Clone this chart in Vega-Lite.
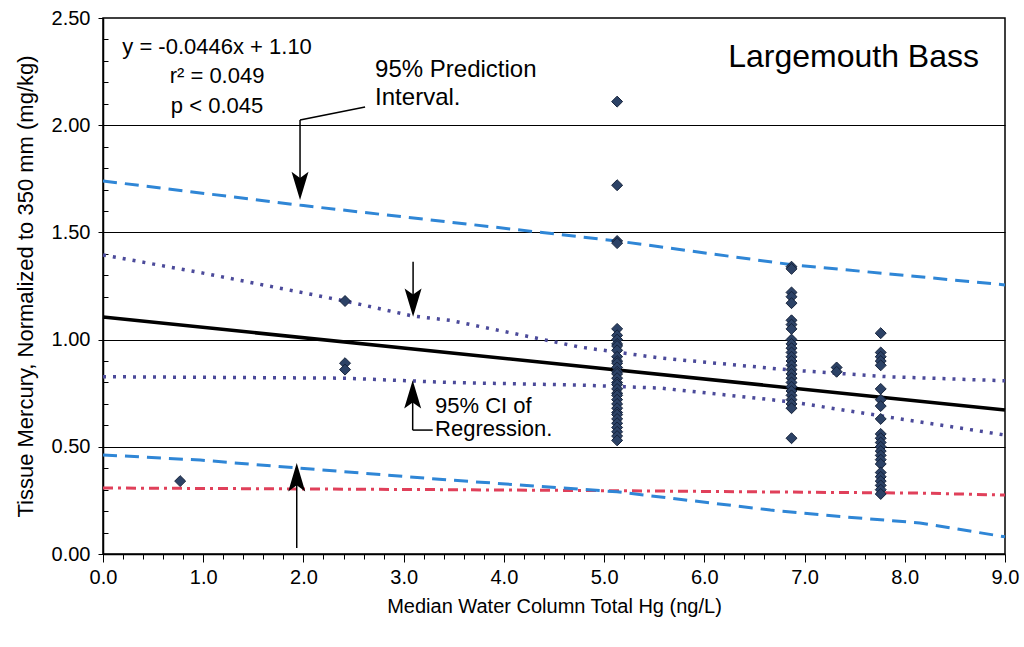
{
  "$schema": "https://vega.github.io/schema/vega-lite/v6.json",
  "width": 902,
  "height": 536,
  "autosize": {"type": "none"},
  "padding": {"left": 103, "top": 18, "right": 19, "bottom": 93},
  "background": "white",
  "config": {
    "view": {"stroke": "black", "strokeWidth": 1.5},
    "font": "Liberation Sans",
    "axis": {"domainColor": "black", "tickColor": "black", "labelColor": "black", "titleColor": "black", "gridColor": "black", "titleFontWeight": "normal", "labelFont": "Liberation Sans", "titleFont": "Liberation Sans"}
  },
  "datasets": {
    "pts": [
      {"x": 0.77, "y": 0.34},
      {"x": 2.415, "y": 1.18}, {"x": 2.415, "y": 0.89}, {"x": 2.415, "y": 0.86},
      {"x": 5.13, "y": 2.11}, {"x": 5.13, "y": 1.72}, {"x": 5.13, "y": 1.46}, {"x": 5.13, "y": 1.45},
      {"x": 5.13, "y": 1.05}, {"x": 5.13, "y": 1.02}, {"x": 5.13, "y": 1.0}, {"x": 5.13, "y": 0.98}, {"x": 5.13, "y": 0.97},
      {"x": 5.13, "y": 0.95}, {"x": 5.13, "y": 0.92}, {"x": 5.13, "y": 0.9}, {"x": 5.13, "y": 0.89}, {"x": 5.13, "y": 0.87},
      {"x": 5.13, "y": 0.85}, {"x": 5.13, "y": 0.84}, {"x": 5.13, "y": 0.82}, {"x": 5.13, "y": 0.8}, {"x": 5.13, "y": 0.79},
      {"x": 5.13, "y": 0.77}, {"x": 5.13, "y": 0.75}, {"x": 5.13, "y": 0.74}, {"x": 5.13, "y": 0.72}, {"x": 5.13, "y": 0.7},
      {"x": 5.13, "y": 0.68}, {"x": 5.13, "y": 0.66}, {"x": 5.13, "y": 0.65}, {"x": 5.13, "y": 0.63}, {"x": 5.13, "y": 0.61},
      {"x": 5.13, "y": 0.59}, {"x": 5.13, "y": 0.57}, {"x": 5.13, "y": 0.55}, {"x": 5.13, "y": 0.53},
      {"x": 6.87, "y": 1.34}, {"x": 6.87, "y": 1.33}, {"x": 6.87, "y": 1.22}, {"x": 6.87, "y": 1.2}, {"x": 6.87, "y": 1.17},
      {"x": 6.87, "y": 1.09}, {"x": 6.87, "y": 1.07}, {"x": 6.87, "y": 1.05}, {"x": 6.87, "y": 1.0}, {"x": 6.87, "y": 0.98},
      {"x": 6.87, "y": 0.96}, {"x": 6.87, "y": 0.94}, {"x": 6.87, "y": 0.92}, {"x": 6.87, "y": 0.9}, {"x": 6.87, "y": 0.88},
      {"x": 6.87, "y": 0.86}, {"x": 6.87, "y": 0.84}, {"x": 6.87, "y": 0.82}, {"x": 6.87, "y": 0.8}, {"x": 6.87, "y": 0.78},
      {"x": 6.87, "y": 0.76}, {"x": 6.87, "y": 0.74}, {"x": 6.87, "y": 0.72}, {"x": 6.87, "y": 0.7}, {"x": 6.87, "y": 0.68},
      {"x": 6.87, "y": 0.54},
      {"x": 7.32, "y": 0.87}, {"x": 7.32, "y": 0.85},
      {"x": 7.76, "y": 1.03}, {"x": 7.76, "y": 0.94}, {"x": 7.76, "y": 0.92}, {"x": 7.76, "y": 0.9}, {"x": 7.76, "y": 0.88},
      {"x": 7.76, "y": 0.77}, {"x": 7.76, "y": 0.72}, {"x": 7.76, "y": 0.69}, {"x": 7.76, "y": 0.63}, {"x": 7.76, "y": 0.56},
      {"x": 7.76, "y": 0.54}, {"x": 7.76, "y": 0.52}, {"x": 7.76, "y": 0.5}, {"x": 7.76, "y": 0.48}, {"x": 7.76, "y": 0.46},
      {"x": 7.76, "y": 0.44}, {"x": 7.76, "y": 0.42}, {"x": 7.76, "y": 0.38}, {"x": 7.76, "y": 0.36}, {"x": 7.76, "y": 0.34},
      {"x": 7.76, "y": 0.32}, {"x": 7.76, "y": 0.3}, {"x": 7.76, "y": 0.28}
    ],
    "upperPI": [{"x": 0, "y": 1.74}, {"x": 2, "y": 1.625}, {"x": 5.13, "y": 1.46}, {"x": 6.86, "y": 1.35}, {"x": 9, "y": 1.255}],
    "lowerPI": [{"x": 0, "y": 0.462}, {"x": 0.97, "y": 0.438}, {"x": 1.97, "y": 0.4}, {"x": 3.46, "y": 0.345}, {"x": 5.13, "y": 0.29}, {"x": 6.66, "y": 0.205}, {"x": 7.4, "y": 0.173}, {"x": 8.15, "y": 0.145}, {"x": 9, "y": 0.08}],
    "upperCI": [{"x": 0, "y": 1.395}, {"x": 1, "y": 1.31}, {"x": 2.415, "y": 1.18}, {"x": 3.09, "y": 1.11}, {"x": 3.46, "y": 1.09}, {"x": 4.76, "y": 0.965}, {"x": 5.56, "y": 0.914}, {"x": 6.86, "y": 0.858}, {"x": 7.82, "y": 0.827}, {"x": 9, "y": 0.808}],
    "lowerCI": [{"x": 0, "y": 0.827}, {"x": 2.415, "y": 0.82}, {"x": 3.45, "y": 0.8}, {"x": 4.76, "y": 0.788}, {"x": 5.56, "y": 0.774}, {"x": 6.86, "y": 0.71}, {"x": 7.82, "y": 0.64}, {"x": 9, "y": 0.555}],
    "redline": [{"x": 0, "y": 0.308}, {"x": 3.46, "y": 0.3}, {"x": 5.13, "y": 0.295}, {"x": 8.15, "y": 0.284}, {"x": 9, "y": 0.275}],
    "regression": [{"x": 0, "y": 1.105}, {"x": 9, "y": 0.672}],
    "arrows": [
      {"x": 2.615, "y": 2.085, "x2": 1.966, "y2": 2.024},
      {"x": 1.966, "y": 2.024, "x2": 1.966, "y2": 1.68},
      {"x": 3.094, "y": 1.363, "x2": 3.094, "y2": 1.13},
      {"x": 3.09, "y": 0.578, "x2": 3.09, "y2": 0.79},
      {"x": 3.09, "y": 0.578, "x2": 3.29, "y2": 0.578},
      {"x": 1.933, "y": 0.028, "x2": 1.933, "y2": 0.4}
    ],
    "heads": [
      {"x": 1.966, "y": 1.651, "dir": "down"},
      {"x": 3.094, "y": 1.107, "dir": "down"},
      {"x": 3.09, "y": 0.81, "dir": "up"},
      {"x": 1.933, "y": 0.424, "dir": "up"}
    ],
    "equation": [
      {"x": 1.138, "y": 2.332, "text": "y = -0.0446x + 1.10"},
      {"x": 1.138, "y": 2.197, "text": "r² = 0.049"},
      {"x": 1.138, "y": 2.057, "text": "p < 0.045"}
    ],
    "callouts": [
      {"x": 2.715, "y": 2.225, "text": "95% Prediction"},
      {"x": 2.715, "y": 2.094, "text": "Interval."}
    ],
    "cicallout": [
      {"x": 3.313, "y": 0.658, "text": "95% CI of"},
      {"x": 3.313, "y": 0.55, "text": "Regression."}
    ],
    "species": [{"x": 6.238, "y": 2.271, "text": "Largemouth Bass"}]
  },
  "layer": [
    {
      "data": {"name": "regression"},
      "mark": {"type": "line", "color": "black", "strokeWidth": 3.5},
      "encoding": {
        "x": {"field": "x", "type": "quantitative",
          "scale": {"domain": [0, 9], "nice": false, "zero": false},
          "axis": {
            "title": "Median Water Column Total Hg (ng/L)",
            "titleFontSize": 20, "titlePadding": 9,
            "tickCount": 1000,
            "values": [0,0.2,0.4,0.6,0.8,1,1.2,1.4,1.6,1.8,2,2.2,2.4,2.6,2.8,3,3.2,3.4,3.6,3.8,4,4.2,4.4,4.6,4.8,5,5.2,5.4,5.6,5.8,6,6.2,6.4,6.6,6.8,7,7.2,7.4,7.6,7.8,8,8.2,8.4,8.6,8.8,9],
            "labelExpr": "abs(datum.value-round(datum.value))<0.001 ? format(datum.value,'.1f') : ''",
            "labelFontSize": 20, "labelPadding": 5, "labelOverlap": false, "labelFlush": false,
            "tickSize": {"condition": {"test": "abs(datum.value-round(datum.value))<0.001", "value": 8}, "value": 5},
            "grid": false, "domainWidth": 1.5
          }
        },
        "y": {"field": "y", "type": "quantitative",
          "scale": {"domain": [0, 2.5], "nice": false, "zero": false},
          "axis": {
            "title": "Tissue Mercury, Normalized to 350 mm (mg/kg)",
            "titleFontSize": 22, "titlePadding": 14,
            "tickCount": 1000,
            "values": [0,0.1,0.2,0.3,0.4,0.5,0.6,0.7,0.8,0.9,1,1.1,1.2,1.3,1.4,1.5,1.6,1.7,1.8,1.9,2,2.1,2.2,2.3,2.4,2.5],
            "labelExpr": "abs(datum.value*2-round(datum.value*2))<0.001 ? format(datum.value,'.2f') : ''",
            "labelFontSize": 20, "labelPadding": 8, "labelOverlap": false, "labelFlush": false,
            "tickSize": {"condition": {"test": "abs(datum.value*2-round(datum.value*2))<0.001", "value": 5}, "value": -5},
            "grid": true,
            "gridOpacity": {"condition": {"test": "abs(datum.value*2-round(datum.value*2))<0.001 && datum.value > 0.01 && datum.value < 2.49", "value": 1}, "value": 0},
            "gridWidth": 1, "domainWidth": 1.5
          }
        }
      }
    },
    {
      "data": {"name": "redline"},
      "mark": {"type": "line", "color": "#e0405a", "strokeWidth": 3, "strokeDash": [10, 5, 3, 5]},
      "encoding": {"x": {"field": "x", "type": "quantitative"}, "y": {"field": "y", "type": "quantitative"}}
    },
    {
      "data": {"name": "upperPI"},
      "mark": {"type": "line", "color": "#2f86d6", "strokeWidth": 3, "strokeDash": [14, 8]},
      "encoding": {"x": {"field": "x", "type": "quantitative"}, "y": {"field": "y", "type": "quantitative"}}
    },
    {
      "data": {"name": "lowerPI"},
      "mark": {"type": "line", "color": "#2f86d6", "strokeWidth": 3, "strokeDash": [14, 8]},
      "encoding": {"x": {"field": "x", "type": "quantitative"}, "y": {"field": "y", "type": "quantitative"}}
    },
    {
      "data": {"name": "upperCI"},
      "mark": {"type": "line", "color": "#4b4a9a", "strokeWidth": 3.5, "strokeDash": [3, 7]},
      "encoding": {"x": {"field": "x", "type": "quantitative"}, "y": {"field": "y", "type": "quantitative"}}
    },
    {
      "data": {"name": "lowerCI"},
      "mark": {"type": "line", "color": "#4b4a9a", "strokeWidth": 3.5, "strokeDash": [3, 7]},
      "encoding": {"x": {"field": "x", "type": "quantitative"}, "y": {"field": "y", "type": "quantitative"}}
    },
    {
      "data": {"name": "arrows"},
      "mark": {"type": "rule", "color": "black", "strokeWidth": 1.5},
      "encoding": {
        "x": {"field": "x", "type": "quantitative"}, "y": {"field": "y", "type": "quantitative"},
        "x2": {"field": "x2"}, "y2": {"field": "y2"}
      }
    },
    {
      "data": {"name": "heads"},
      "mark": {"type": "point", "filled": true, "color": "black", "size": 3200, "opacity": 1, "strokeWidth": 0},
      "encoding": {
        "x": {"field": "x", "type": "quantitative"}, "y": {"field": "y", "type": "quantitative"},
        "shape": {"field": "dir", "type": "nominal", "legend": null,
          "scale": {"domain": ["down", "up"], "range": ["M0,0L-0.3,-1L0,-0.78L0.3,-1Z", "M0,0L-0.3,1L0,0.78L0.3,1Z"]}}
      }
    },
    {
      "data": {"name": "pts"},
      "mark": {"type": "point", "shape": "diamond", "filled": true, "color": "#2c4266", "stroke": "#15223a", "strokeWidth": 1, "size": 120, "opacity": 1},
      "encoding": {"x": {"field": "x", "type": "quantitative"}, "y": {"field": "y", "type": "quantitative"}}
    },
    {
      "data": {"name": "equation"},
      "mark": {"type": "text", "align": "center", "baseline": "alphabetic", "fontSize": 22, "font": "Liberation Sans", "color": "black"},
      "encoding": {"x": {"field": "x", "type": "quantitative"}, "y": {"field": "y", "type": "quantitative"}, "text": {"field": "text"}}
    },
    {
      "data": {"name": "callouts"},
      "mark": {"type": "text", "align": "left", "baseline": "alphabetic", "fontSize": 24, "font": "Liberation Sans", "color": "black"},
      "encoding": {"x": {"field": "x", "type": "quantitative"}, "y": {"field": "y", "type": "quantitative"}, "text": {"field": "text"}}
    },
    {
      "data": {"name": "cicallout"},
      "mark": {"type": "text", "align": "left", "baseline": "alphabetic", "fontSize": 22, "font": "Liberation Sans", "color": "black"},
      "encoding": {"x": {"field": "x", "type": "quantitative"}, "y": {"field": "y", "type": "quantitative"}, "text": {"field": "text"}}
    },
    {
      "data": {"name": "species"},
      "mark": {"type": "text", "align": "left", "baseline": "alphabetic", "fontSize": 32, "font": "Liberation Sans", "color": "black"},
      "encoding": {"x": {"field": "x", "type": "quantitative"}, "y": {"field": "y", "type": "quantitative"}, "text": {"field": "text"}}
    }
  ]
}
